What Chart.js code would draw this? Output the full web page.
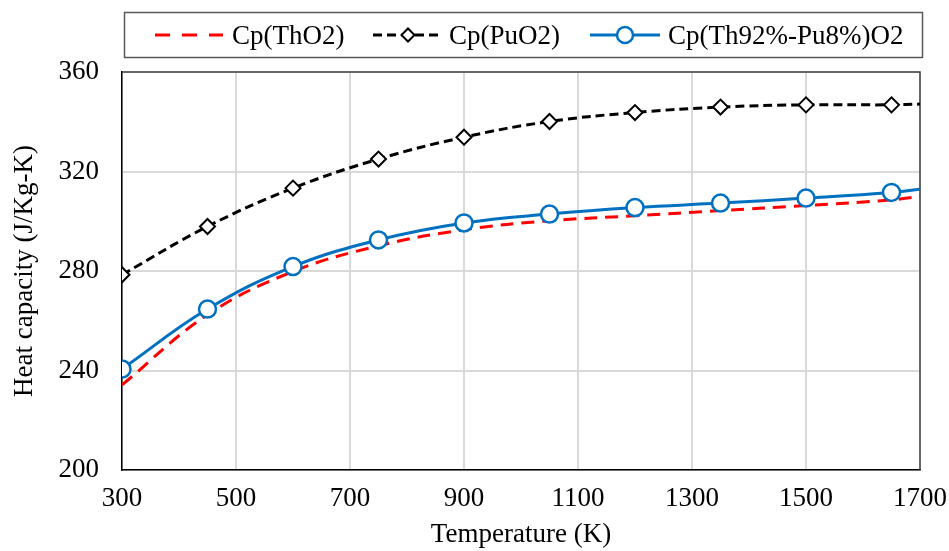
<!DOCTYPE html>
<html>
<head>
<meta charset="utf-8">
<script src="https://cdn.jsdelivr.net/npm/chart.js@4.4.1/dist/chart.umd.min.js"></script>
<style>
  html, body { margin: 0; background: #fff; }
  #wrap { width: 949px; height: 551px; }
</style>
</head>
<body>
<div id="wrap"><canvas id="cp" width="949" height="551"></canvas></div>
<script>
// temperatures (K) and heat capacity (J/Kg-K)
const temps  = [300, 450, 600, 750, 900, 1050, 1200, 1350, 1500, 1650, 1700];
const cpThO2 = [234.2, 262.4, 279.8, 290.1, 296.6, 300.2, 302.2, 304.3, 306.3, 308.6, 310.0];
const cpPuO2 = [278.5, 297.9, 313.3, 325.0, 333.8, 340.1, 343.7, 345.9, 346.8, 346.8, 347.1];
const cpMix  = [240.6, 264.7, 281.8, 292.5, 299.3, 302.9, 305.5, 307.3, 309.3, 311.6, 312.9];
const markedTemps = [300, 450, 600, 750, 900, 1050, 1200, 1350, 1500, 1650];

const seriesNames = ['Cp(ThO2)', 'Cp(PuO2)', 'Cp(Th92%-Pu8%)O2'];
const xTicks = [300, 500, 700, 900, 1100, 1300, 1500, 1700];
const yTicks = [200, 240, 280, 320, 360];

const SERIF = "'Liberation Serif', 'Times New Roman', serif";
const FONT = { family: SERIF, size: 27, lineHeight: 1.2 };
const BLUE = '#0070c0';

const pts = vals => vals.map((v, i) => ({ x: temps[i], y: v }));
const marks = r => temps.map(t => markedTemps.includes(t) ? r : 0);

// legend in a framed box across the top
const legendBox = {
    id: 'legendBox',
    afterDraw(chart) {
        const c = chart.ctx;
        const y = 35;
        const slots = [
            { x0: 155, x1: 223, tx: 232 },
            { x0: 373, x1: 443, tx: 449 },
            { x0: 590, x1: 660, tx: 668 }
        ];
        c.save();
        c.strokeStyle = '#595959';
        c.lineWidth = 1.5;
        c.strokeRect(124.5, 12.5, 798, 45);
        chart.data.datasets.forEach((ds, i) => {
            const s = slots[i];
            c.beginPath();
            c.setLineDash(ds.legendDash || []);
            c.strokeStyle = ds.borderColor;
            c.lineWidth = ds.borderWidth;
            c.moveTo(s.x0, y);
            c.lineTo(s.x1, y);
            c.stroke();
            c.setLineDash([]);
            if (ds.legendMarker) {
                c.fillStyle = '#fff';
                c.strokeStyle = ds.borderColor;
                c.lineWidth = ds.pointBorderWidth;
                Chart.helpers.drawPoint(c, {
                    pointStyle: ds.pointStyle, radius: ds.legendMarker,
                    borderWidth: ds.pointBorderWidth, rotation: 0
                }, (s.x0 + s.x1) / 2, y);
            }
            c.fillStyle = '#000';
            c.font = `27px ${SERIF}`;
            c.textBaseline = 'alphabetic';
            c.fillText(ds.label, s.tx, 44);
        });
        c.restore();
    }
};

// top and right edges of the plot frame
const frame = {
    id: 'frame',
    beforeDatasetsDraw(chart) {
        const { left, right, top, bottom } = chart.chartArea;
        const c = chart.ctx;
        c.save();
        c.strokeStyle = '#404040';
        c.lineWidth = 1.5;
        c.beginPath();
        c.moveTo(left, top);
        c.lineTo(right, top);
        c.lineTo(right, bottom);
        c.stroke();
        c.restore();
    }
};

new Chart(document.getElementById('cp'), {
    type: 'line',
    data: {
        datasets: [
            {
                label: seriesNames[0], data: pts(cpThO2), order: 2,
                borderColor: '#ff0000', borderWidth: 3, borderDash: [13, 8], legendDash: [15, 12],
                pointRadius: 0, tension: 0.4
            },
            {
                label: seriesNames[1], data: pts(cpPuO2), order: 1,
                borderColor: '#000000', borderWidth: 3, borderDash: [9, 5], legendDash: [9, 5],
                pointStyle: 'rectRot', pointRadius: marks(7.5), pointBorderWidth: 2,
                pointBackgroundColor: '#fff', pointBorderColor: '#000', legendMarker: 6.5,
                tension: 0.4
            },
            {
                label: seriesNames[2], data: pts(cpMix), order: 0,
                borderColor: BLUE, borderWidth: 3,
                pointStyle: 'circle', pointRadius: marks(8.5), pointBorderWidth: 2.5,
                pointBackgroundColor: '#fff', pointBorderColor: BLUE, legendMarker: 8,
                tension: 0.4
            }
        ]
    },
    options: {
        responsive: false,
        animation: false,
        events: [],
        layout: { padding: { top: 72, right: 29, left: 0, bottom: 0 } },
        plugins: { legend: { display: false }, tooltip: { enabled: false } },
        scales: {
            x: {
                type: 'linear',
                min: xTicks[0], max: xTicks[xTicks.length - 1],
                afterBuildTicks: s => { s.ticks = xTicks.map(v => ({ value: v })); },
                afterFit: s => { s.height = 81; s.paddingLeft = 0; s.paddingRight = 0; },
                grid: { color: '#d9d9d9', lineWidth: 2, drawTicks: false },
                border: { color: '#000', width: 1.5 },
                ticks: { color: '#000', font: FONT, padding: 13, maxRotation: 0, callback: v => String(v) },
                title: { display: true, text: 'Temperature (K)', color: '#000', font: FONT, padding: 0 }
            },
            y: {
                min: yTicks[0], max: yTicks[yTicks.length - 1],
                afterBuildTicks: s => { s.ticks = yTicks.map(v => ({ value: v })); },
                afterFit: s => { s.width = 122; s.paddingTop = 0; s.paddingBottom = 0; },
                grid: { color: '#d9d9d9', lineWidth: 2, drawTicks: false },
                border: { color: '#000', width: 1.5 },
                ticks: { color: '#000', font: FONT, padding: 23, callback: v => String(v) },
                title: { display: true, text: 'Heat capacity (J/Kg-K)', color: '#000', font: FONT, padding: { top: 9 } }
            }
        }
    },
    plugins: [frame, legendBox]
});
</script>
</body>
</html>
